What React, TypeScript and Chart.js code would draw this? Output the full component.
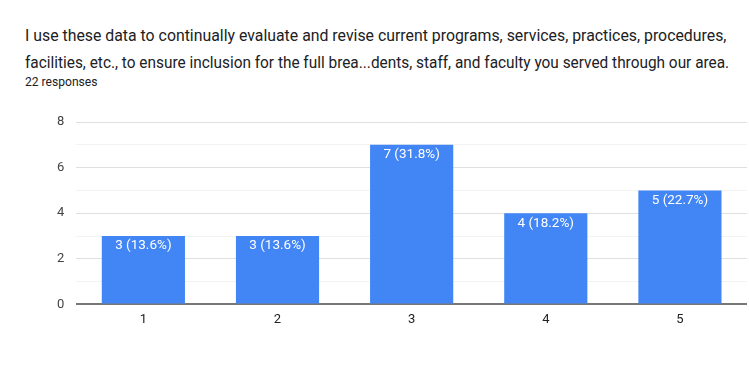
import React, { useEffect, useRef } from "react";
import { Chart, registerables } from "chart.js";

Chart.register(...registerables);

const categories = ["1", "2", "3", "4", "5"];
const counts = [3, 3, 7, 4, 5];
const percentLabels = ["13.6%", "13.6%", "31.8%", "18.2%", "22.7%"];
const titleLines = [
  "I use these data to continually evaluate and revise current programs, services, practices, procedures,",
  "facilities, etc., to ensure inclusion for the full brea...dents, staff, and faculty you served through our area.",
];
const titleScales = [0.932, 0.905];
const responsesText = "22 responses";

const barLabelPlugin = {
  id: "barLabels",
  afterDatasetsDraw(chart: any) {
    const ctx = chart.ctx;
    const meta = chart.getDatasetMeta(0);
    ctx.save();
    ctx.fillStyle = "#ffffff";
    ctx.font = "13.5px Roboto";
    ctx.textAlign = "center";
    ctx.textBaseline = "middle";
    meta.data.forEach((bar: any, i: number) => {
      ctx.fillText(`${counts[i]} (${percentLabels[i]})`, bar.x, bar.y + 10);
    });
    ctx.restore();
  },
};

export default function App() {
  const ref = useRef<HTMLCanvasElement>(null);
  useEffect(() => {
    document.body.style.margin = "0";
    const chart = new Chart(ref.current!, {
      type: "bar",
      data: {
        labels: categories,
        datasets: [
          {
            data: counts,
            backgroundColor: "#4285f4",
            categoryPercentage: 1,
            barPercentage: 0.62,
          },
        ],
      },
      options: {
        animation: false,
        responsive: false,
        layout: { padding: { top: 122, right: 2, bottom: 53, left: 45 } },
        plugins: { legend: { display: false }, tooltip: { enabled: false } },
        scales: {
          x: {
            grid: { display: false },
            border: { display: false },
            ticks: { color: "#222", font: { family: "Roboto", size: 13 }, padding: 0 },
          },
          y: {
            min: 0,
            max: 8,
            border: { display: false },
            grid: {
              drawTicks: false,
              color: (c: any) =>
                c.tick.value === 0 ? "#777" : c.tick.value % 2 === 0 ? "#e0e0e0" : "#f3f3f3",
              lineWidth: (c: any) => (c.tick.value === 0 ? 2 : 1),
            },
            ticks: {
              stepSize: 1,
              padding: 12,
              color: "#444",
              font: { family: "Roboto", size: 13 },
              callback: (v: any) => (Number(v) % 2 === 0 ? String(v) : ""),
            },
          },
        },
      },
      plugins: [barLabelPlugin],
    });
    return () => chart.destroy();
  }, []);
  return (
    <div style={{ position: "relative", width: 749, height: 381, background: "#fff", overflow: "hidden" }}>
      <div
        style={{
          position: "absolute",
          left: 25,
          top: 22,
          fontFamily: "Roboto",
          fontSize: 17,
          lineHeight: "27px",
          color: "#202124",
          whiteSpace: "nowrap",
        }}
      >
        {titleLines.map((l, i) => (
          <div key={i} style={{ transform: `scaleX(${titleScales[i]})`, transformOrigin: "left top" }}>
            {l}
          </div>
        ))}
      </div>
      <div
        style={{
          position: "absolute",
          left: 25,
          top: 74,
          fontFamily: "Roboto",
          fontSize: 13,
          color: "#202124",
          whiteSpace: "nowrap",
          transform: "scaleX(0.93)",
          transformOrigin: "left top",
        }}
      >
        {responsesText}
      </div>
      <canvas ref={ref} width={749} height={381} style={{ position: "absolute", left: 0, top: 0 }} />
    </div>
  );
}
